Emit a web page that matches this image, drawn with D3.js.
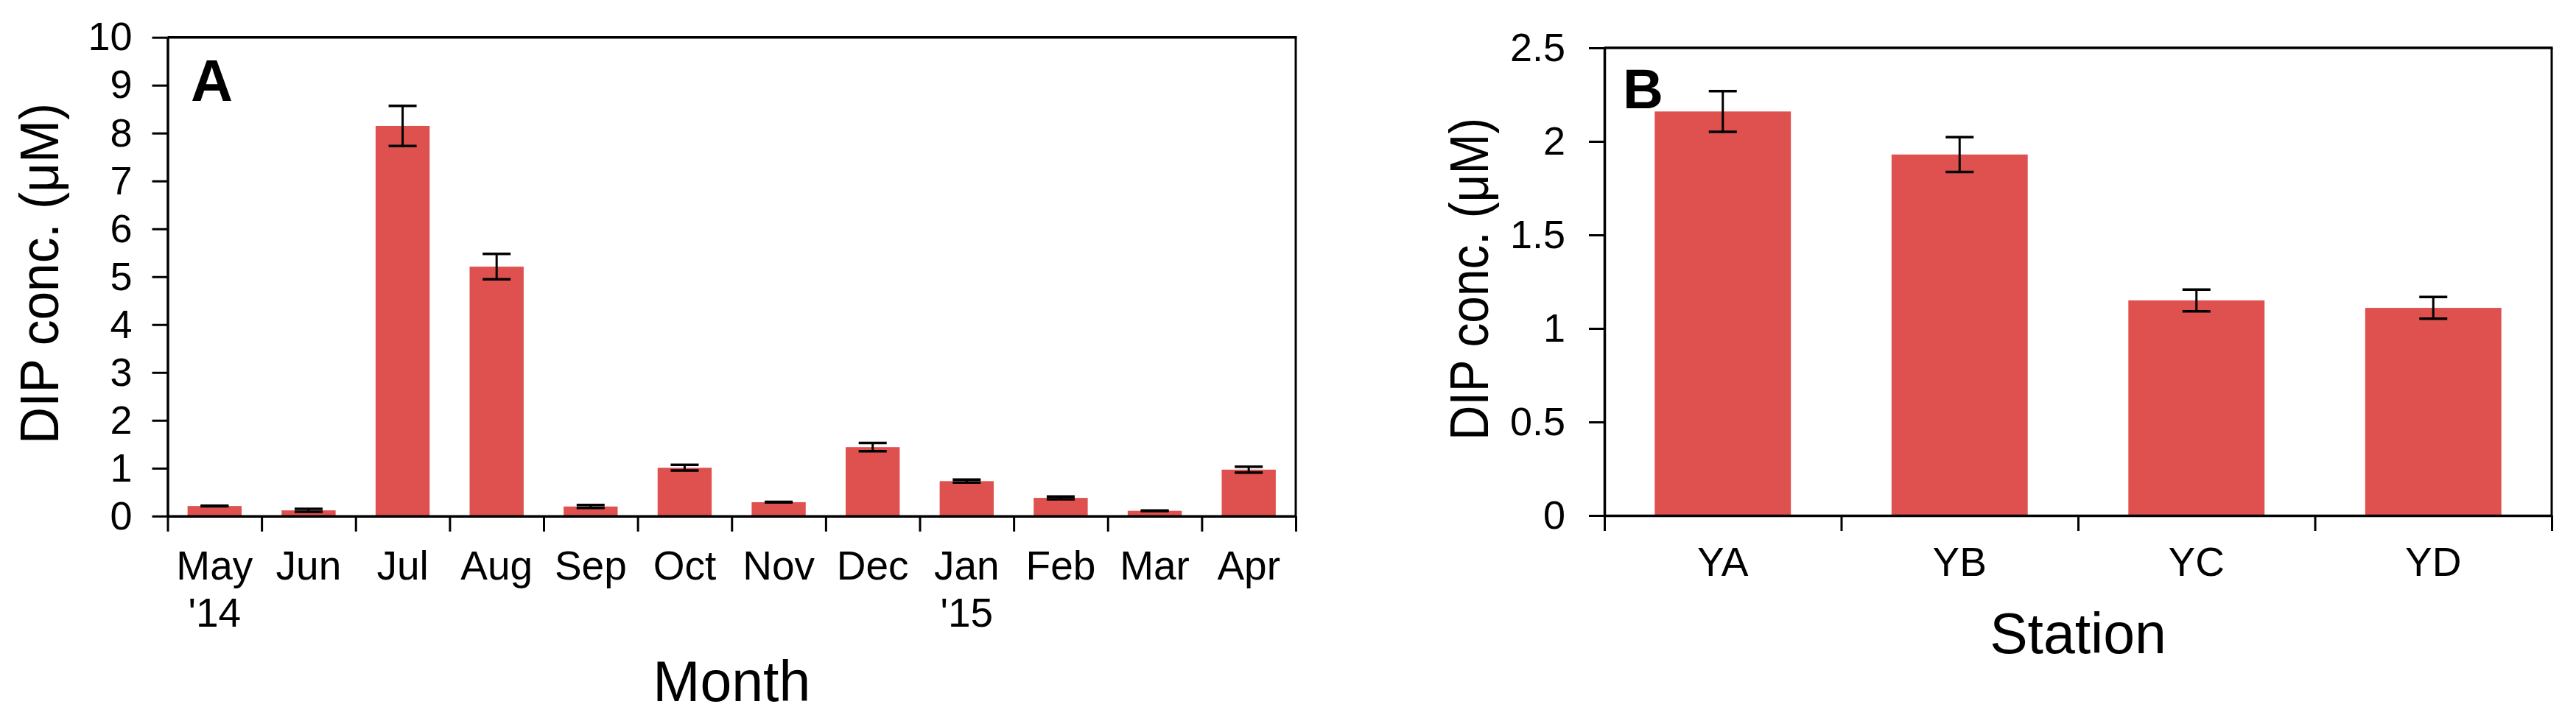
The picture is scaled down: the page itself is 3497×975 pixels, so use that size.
<!DOCTYPE html>
<html>
<head>
<meta charset="utf-8">
<script src="https://cdn.jsdelivr.net/npm/d3@7"></script>
<style>
  html, body { margin: 0; padding: 0; background: #fff; }
  svg { display: block; }
  text { font-family: "Liberation Sans", Arial, sans-serif; fill: #000; }
</style>
</head>
<body>
<svg id="chart" width="3497" height="975"></svg>
<script>
// ---------- Data ----------
const months      = ["May", "Jun", "Jul", "Aug", "Sep", "Oct", "Nov", "Dec", "Jan", "Feb", "Mar", "Apr"];
const monthYears  = ["'14", "", "", "", "", "", "", "", "'15", "", "", ""];
const monthDIP    = [0.21, 0.12, 8.15, 5.21, 0.20, 1.01, 0.29, 1.44, 0.73, 0.38, 0.11, 0.97];
const monthErr    = [0.005, 0.03, 0.42, 0.265, 0.03, 0.06, 0.005, 0.087, 0.031, 0.028, 0.005, 0.06];
const monthTicks  = [0, 1, 2, 3, 4, 5, 6, 7, 8, 9, 10];

const stations     = ["YA", "YB", "YC", "YD"];
const stationDIP   = [2.16, 1.93, 1.15, 1.11];
const stationErr   = [0.109, 0.093, 0.058, 0.058];
const stationTicks = [0, 0.5, 1, 1.5, 2, 2.5];

const yTitle = "DIP conc. (\u03BCM)";
const barColor = "#DE514F";

const svg = d3.select("#chart");
svg.append("rect").attr("width", 3497).attr("height", 975).attr("fill", "#fff");

function panel(opts) {
  const g = svg.append("g");
  const n = opts.cats.length;
  const x = d3.scaleBand().domain(opts.cats).range([opts.x0, opts.x1])
              .paddingInner(0.425).paddingOuter(0.2125);
  const xb = d3.scaleLinear().domain([0, n]).range([opts.x0, opts.x1]);
  const y = d3.scaleLinear().domain([0, opts.ymax]).range([opts.y0, opts.yTop]);

  // bars
  g.selectAll("rect.bar").data(opts.vals).join("rect")
    .attr("class", "bar")
    .attr("x", (d, i) => x(opts.cats[i]))
    .attr("width", x.bandwidth())
    .attr("y", d => y(d))
    .attr("height", d => y(0) - y(d))
    .attr("fill", barColor);

  // error bars
  const capW = 38;
  const eb = g.selectAll("g.err").data(opts.vals).join("g").attr("class", "err");
  eb.append("line")
    .attr("x1", (d, i) => x(opts.cats[i]) + x.bandwidth() / 2)
    .attr("x2", (d, i) => x(opts.cats[i]) + x.bandwidth() / 2)
    .attr("y1", (d, i) => y(d + opts.errs[i]))
    .attr("y2", (d, i) => y(d - opts.errs[i]))
    .attr("stroke", "#000").attr("stroke-width", 3);
  [1, -1].forEach(s => {
    eb.append("line")
      .attr("x1", (d, i) => x(opts.cats[i]) + x.bandwidth() / 2 - capW / 2)
      .attr("x2", (d, i) => x(opts.cats[i]) + x.bandwidth() / 2 + capW / 2)
      .attr("y1", (d, i) => y(d + s * opts.errs[i]))
      .attr("y2", (d, i) => y(d + s * opts.errs[i]))
      .attr("stroke", "#000").attr("stroke-width", 3.5);
  });

  // frame: top and right
  g.append("line").attr("x1", opts.x0).attr("x2", opts.x1 + 1.5)
    .attr("y1", opts.yTop).attr("y2", opts.yTop)
    .attr("stroke", "#000").attr("stroke-width", 3.5);
  g.append("line").attr("x1", opts.x1).attr("x2", opts.x1)
    .attr("y1", opts.yTop).attr("y2", opts.y0)
    .attr("stroke", "#000").attr("stroke-width", 3);

  // y axis
  const ya = g.append("g").attr("transform", `translate(${opts.x0},0)`)
    .call(d3.axisLeft(y).tickValues(opts.ticks).tickSize(21).tickSizeOuter(0)
          .tickPadding(opts.tickPad).tickFormat(d3.format("")));
  ya.select(".domain").attr("stroke-width", 3.5);
  ya.selectAll(".tick line").attr("stroke-width", 3);
  ya.selectAll(".tick text").attr("font-size", 54)
    .attr("font-family", "Liberation Sans, Arial, sans-serif").attr("dy", "0.32em");

  // x axis (boundary ticks)
  const xa = g.append("g").attr("transform", `translate(0,${opts.y0})`)
    .call(d3.axisBottom(xb).tickValues(d3.range(n + 1)).tickSize(21)
          .tickSizeOuter(0).tickFormat(""));
  xa.select(".domain").attr("stroke-width", 3.5);
  xa.selectAll(".tick line").attr("stroke-width", 3);

  // category labels
  opts.cats.forEach((c, i) => {
    const cx = x(c) + x.bandwidth() / 2;
    g.append("text").attr("x", cx).attr("y", opts.y0 + opts.lab1)
      .attr("text-anchor", "middle").attr("font-size", 55).text(c);
    if (opts.lines2 && opts.lines2[i]) {
      g.append("text").attr("x", cx).attr("y", opts.y0 + opts.lab1 + 64)
        .attr("text-anchor", "middle").attr("font-size", 55).text(opts.lines2[i]);
    }
  });

  // x title
  g.append("text").attr("x", (opts.x0 + opts.x1) / 2).attr("y", opts.xTitleY)
    .attr("text-anchor", "middle").attr("font-size", 77).text(opts.xTitle);

  // y title
  g.append("text")
    .attr("transform", `translate(${opts.yTitleX},${opts.yTitleCY}) rotate(-90)`)
    .attr("text-anchor", "middle").attr("font-size", 75)
    .attr("textLength", opts.yTitleLen).attr("lengthAdjust", "spacingAndGlyphs")
    .text(yTitle);

  // panel letter
  g.append("text").attr("x", opts.letterX).attr("y", opts.letterY)
    .attr("font-size", opts.letterSize).attr("font-weight", "bold").text(opts.letter);
}

panel({
  cats: months, lines2: monthYears, vals: monthDIP, errs: monthErr, ticks: monthTicks,
  ymax: 10, x0: 227.5, x1: 1759, yTop: 50.7, y0: 700.8, tickPad: 27,
  lab1: 86, xTitle: "Month", xTitleY: 951.7,
  yTitleX: 78.5, yTitleCY: 371.5, yTitleLen: 463,
  letter: "A", letterX: 259, letterY: 136.7, letterSize: 79
});

panel({
  cats: stations, lines2: null, vals: stationDIP, errs: stationErr, ticks: stationTicks,
  ymax: 2.5, x0: 2178, x1: 3464, yTop: 65, y0: 700, tickPad: 32,
  lab1: 81.7, xTitle: "Station", xTitleY: 887,
  yTitleX: 2020, yTitleCY: 379, yTitleLen: 438,
  letter: "B", letterX: 2203, letterY: 147, letterSize: 76
});
</script>
</body>
</html>
